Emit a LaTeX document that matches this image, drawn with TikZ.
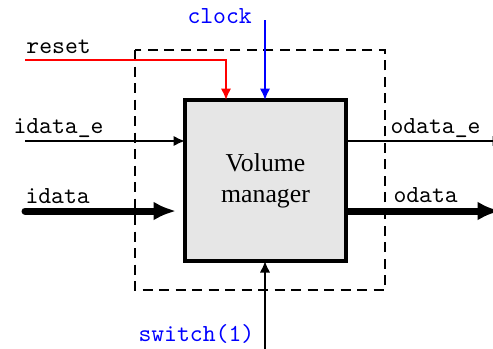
\documentclass[tikz,border=0pt]{standalone}
\usepackage{fontspec}
\setmainfont{Liberation Serif}
\usetikzlibrary{arrows.meta}
\definecolor{boxgray}{RGB}{230,230,230}
\begin{document}
\begin{tikzpicture}[x=0.4pt,y=-0.4pt,
  lbl/.style={anchor=base west, inner sep=0pt, font=\fontsize{9.8}{11}\selectfont\ttfamily},
  thin/.style={line width=0.8pt, -{Latex[length=4.6pt,width=4.2pt]}},
  thick/.style={line width=2.8pt, line cap=round, -{Latex[length=9pt,width=7.6pt]}},
  mgr/.style={draw, line width=1.6pt, fill=boxgray, minimum width=64.4pt, minimum height=64.4pt, inner sep=0pt, align=center, font=\fontsize{10.3}{12.5}\selectfont}
]
\useasboundingbox (0,0) rectangle (493,348);
\clip (0,0) rectangle (493,348);
\draw[line width=0.8pt, dash pattern=on 4pt off 2.6pt] (135,50) rectangle (385,290);
\node[mgr] (vm) at (265.5,180.5) {Volume\\manager};
% labels
\node[lbl, text=blue] (clk) at (187,23) {clock};
\node[lbl] (rst) at (26,53) {reset};
\node[lbl] (ide) at (13,133) {idata\_e};
\node[lbl] (id) at (25,203) {idata};
\node[lbl] (ode) at (390,133) {odata\_e};
\node[lbl] (od) at (393,202) {odata};
\node[lbl, text=blue] (sw) at (138,341) {switch(1)};
% connector ends
\coordinate (clkS) at (265,20);
\coordinate (clkE) at (265,100);
\coordinate (rstS) at (25,60);
\coordinate (rstE) at (226,100);
\coordinate (ideS) at (25,141);
\coordinate (ideE) at (185,141);
\coordinate (idS) at (25,211);
\coordinate (idE) at (176,211);
\coordinate (odeS) at (346,141);
\coordinate (odeE) at (504,141);
\coordinate (odS) at (346,211);
\coordinate (odE) at (500,211);
\coordinate (swS) at (265,350);
\coordinate (swE) at (265,261);
% connectors
\draw[thin, blue] (clkS) -- (clkE);
\draw[thin, red] (rstS) -| (rstE);
\draw[thin] (ideS) -- (ideE);
\draw[thick] (idS) -- (idE);
\draw[thin] (odeS) -- (odeE);
\draw[thick, line cap=butt] (odS) -- (odE);
\draw[thin] (swS) -- (swE);
\end{tikzpicture}
\end{document}
